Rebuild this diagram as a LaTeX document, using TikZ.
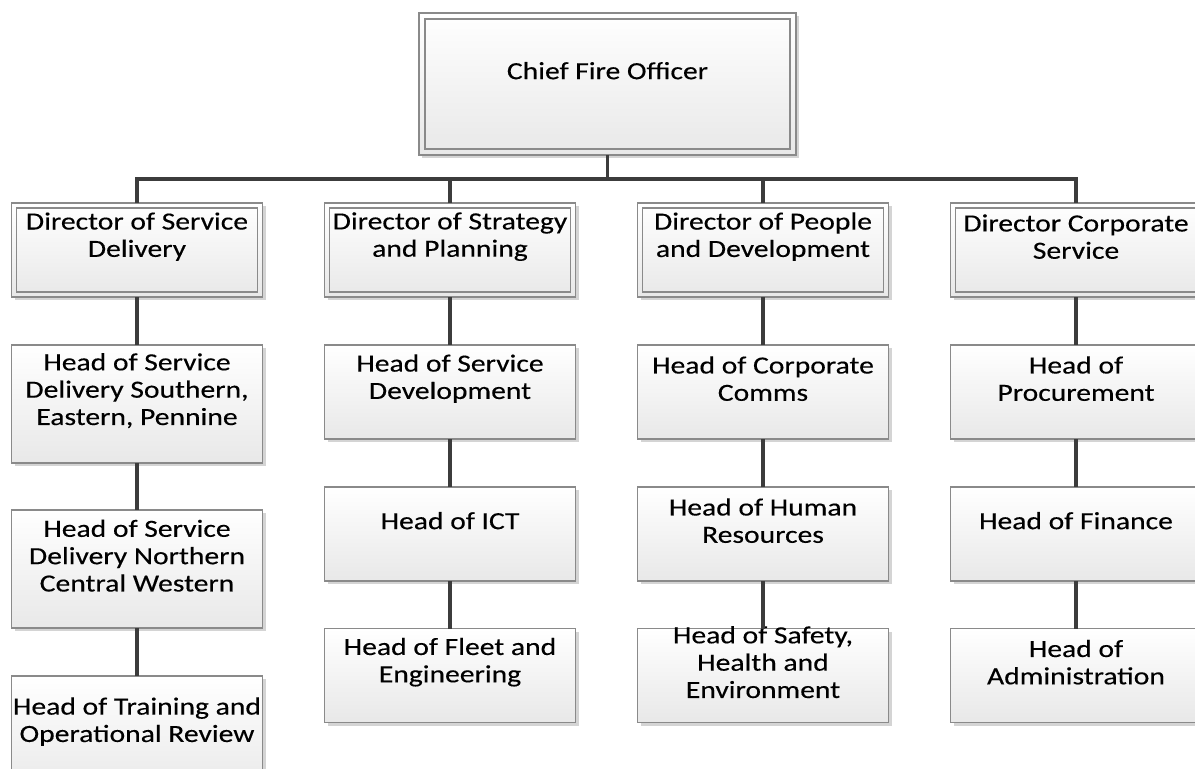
\documentclass[tikz,border=0pt]{standalone}
\usepackage{fontspec}
\setmainfont{Carlito}[FakeStretch=1.2,FakeBold=0.3]
\usetikzlibrary{calc,shadows}
\definecolor{boxline}{HTML}{8A8A8A}
\definecolor{conn}{HTML}{3C3C3C}
\definecolor{shade}{HTML}{D4D4D4}
\begin{document}
\begin{tikzpicture}[x=0.75pt,y=-0.75pt,
  box/.style={rectangle, draw=boxline, line width=0.8pt, top color=white, bottom color=black!9,
    minimum width=188pt, minimum height=70.5pt, inner sep=0pt, outer sep=0pt,
    drop shadow={shadow xshift=2.6pt, shadow yshift=-2.6pt, fill=shade, opacity=1}},
  tallbox/.style={box, minimum height=88.5pt},
  lbl/.style={font=\fontsize{18.5pt}{20.5pt}\selectfont, align=center, inner sep=0pt, anchor=center, text=black},
  link/.style={draw=conn, line width=2.6pt},
  innerline/.style={draw=boxline, line width=0.8pt}
]
\useasboundingbox (0,0) rectangle (1195,768);
\clip (0,0) rectangle (1195,768);

% chief
\node[box, minimum width=282.75pt, minimum height=106.5pt] (cfo) at (607.5,84) {};
\draw[innerline] ([shift={(6,6)}]cfo.north west) rectangle ([shift={(-6,-6)}]cfo.south east);
\node[lbl] (cfot) at ([yshift=10pt]cfo.center) {Chief Fire Officer};

% directors
\node[box] (d1) at (137,250) {};
\node[box] (d2) at (450,250) {};
\node[box] (d3) at (763,250) {};
\node[box] (d4) at (1076,250) {};
\foreach \d in {d1,d2,d3,d4}{
  \draw[innerline] ([shift={(5,5)}]\d.north west) rectangle ([shift={(-5,-5)}]\d.south east);
}
\node[lbl] (d1t) at ([yshift=10pt]d1.center) {Director of Service\\Delivery};
\node[lbl] (d2t) at ([yshift=10pt]d2.center) {Director of Strategy\\and Planning};
\node[lbl] (d3t) at ([yshift=10pt]d3.center) {Director of People\\and Development};
\node[lbl] (d4t) at ([yshift=10pt]d4.center) {Director Corporate\\Service};

% column 1
\node[tallbox] (h11) at (137,404) {};
\node[tallbox] (h12) at (137,569) {};
\node[tallbox] (h13) at (137,735) {};
\node[lbl] (h11t) at ([yshift=10pt]h11.center) {Head of Service\\Delivery Southern,\\Eastern, Pennine};
\node[lbl] (h12t) at ([yshift=10pt]h12.center) {Head of Service\\Delivery Northern\\Central Western};
\node[lbl] (h13t) at ([yshift=10pt]h13.center) {Head of Training and\\Operational Review};

% column 2
\node[box] (h21) at (450,392) {};
\node[box] (h22) at (450,534) {};
\node[box] (h23) at (450,675.5) {};
\node[lbl] (h21t) at ([yshift=10pt]h21.center) {Head of Service\\Development};
\node[lbl] (h22t) at ([yshift=10pt]h22.center) {Head of ICT};
\node[lbl] (h23t) at ([yshift=10pt]h23.center) {Head of Fleet and\\Engineering};

% column 3
\node[box] (h31) at (763,392) {};
\node[box] (h32) at (763,534) {};
\node[box] (h33) at (763,675.5) {};
\node[lbl] (h31t) at ([yshift=10pt]h31.center) {Head of Corporate\\Comms};
\node[lbl] (h32t) at ([yshift=10pt]h32.center) {Head of Human\\Resources};
\node[lbl] (h33t) at ([yshift=10pt]h33.center) {Head of Safety,\\Health and\\Environment};

% column 4
\node[box] (h41) at (1076,392) {};
\node[box] (h42) at (1076,534) {};
\node[box] (h43) at (1076,675.5) {};
\node[lbl] (h41t) at ([yshift=10pt]h41.center) {Head of\\Procurement};
\node[lbl] (h42t) at ([yshift=10pt]h42.center) {Head of Finance};
\node[lbl] (h43t) at ([yshift=10pt]h43.center) {Head of\\Administration};

% connectors
\coordinate (bar) at (607.5,179);
\draw[link] (cfo.south) -- (bar);
\draw[link] (d1.north) |- (bar) -| (d4.north);
\draw[link] (d2.north) -- (d2.north |- bar);
\draw[link] (d3.north) -- (d3.north |- bar);

\draw[link] (d1.south) -- (h11.north);
\draw[link] (h11.south) -- (h12.north);
\draw[link] (h12.south) -- (h13.north);
\draw[link] (d2.south) -- (h21.north);
\draw[link] (h21.south) -- (h22.north);
\draw[link] (h22.south) -- (h23.north);
\draw[link] (d3.south) -- (h31.north);
\draw[link] (h31.south) -- (h32.north);
\draw[link] (h32.south) -- (h33.north);
\draw[link] (d4.south) -- (h41.north);
\draw[link] (h41.south) -- (h42.north);
\draw[link] (h42.south) -- (h43.north);
\end{tikzpicture}
\end{document}
